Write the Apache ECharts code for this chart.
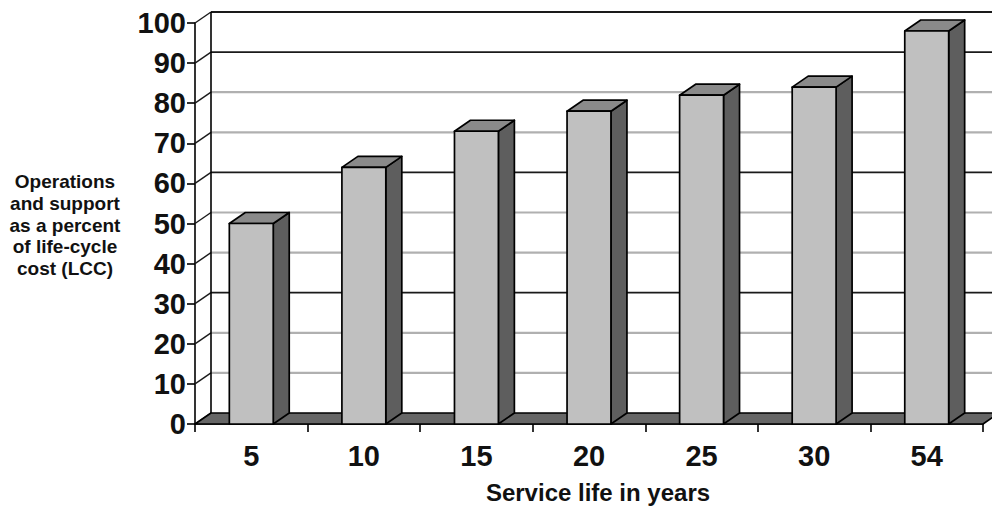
<!DOCTYPE html>
<html>
<head>
<meta charset="utf-8">
<script src="https://cdn.jsdelivr.net/npm/echarts@6/dist/echarts.min.js"></script>
<style>
  html, body { margin: 0; padding: 0; background: #fff; }
  #chart { width: 992px; height: 506px; }
</style>
</head>
<body>
<div id="chart"></div>
<script>
// Service life categories (years) and O&S share of life-cycle cost (%)
const categories = ['5', '10', '15', '20', '25', '30', '54'];
const oandsPercent = [50, 64, 73, 78, 82, 84, 98];
const yTickValues = [0, 10, 20, 30, 40, 50, 60, 70, 80, 90, 100];

// pseudo-3D depth offset of the chart box
const DX = 16;
const DY = -11;
const FONT = '"Liberation Sans", Arial, sans-serif';
const INK = '#111';

const chart = echarts.init(document.getElementById('chart'), null, { renderer: 'svg' });

// back wall, side wall, gridlines and floor of the 3-D box
function renderBox(params, api) {
  const cs = params.coordSys;
  const x0 = cs.x, x1 = cs.x + cs.width;
  const yFloor = api.coord([0, 0])[1];
  const yTop = api.coord([0, 100])[1];
  const children = [];
  yTickValues.forEach(function (v) {
    if (v === 0) return;
    const y = api.coord([0, v])[1];
    const dark = v % 30 === 0 || v === 100;
    children.push({
      type: 'line',
      shape: { x1: x0 + DX, y1: y + DY, x2: x1 + DX + 40, y2: y + DY },
      style: { stroke: dark ? '#1a1a1a' : '#b0b0b0', lineWidth: dark ? 1.8 : 2.2 }
    });
  });
  yTickValues.forEach(function (v) {
    const y = api.coord([0, v])[1];
    children.push({
      type: 'line',
      shape: { x1: x0, y1: y, x2: x0 + DX, y2: y + DY },
      style: { stroke: '#1a1a1a', lineWidth: 1.4 }
    });
  });
  children.push({
    type: 'line',
    shape: { x1: x0 + DX, y1: yTop + DY, x2: x0 + DX, y2: yFloor + DY },
    style: { stroke: '#000', lineWidth: 1.6 }
  });
  children.push({
    type: 'polygon',
    shape: { points: [[x0, yFloor], [x1, yFloor], [x1 + DX, yFloor + DY], [x0 + DX, yFloor + DY]] },
    style: { fill: '#666666', stroke: '#000', lineWidth: 1.6, lineJoin: 'round' }
  });
  return { type: 'group', children: children };
}

// one shaded column: front, top and right side faces
function renderColumn(params, api) {
  const base = api.coord([api.value(0), 0]);
  const top = api.coord([api.value(0), api.value(1)]);
  const bw = api.size([1, 0])[0] * 0.39;
  const xl = base[0] - bw / 2, xr = base[0] + bw / 2;
  const yb = base[1], yt = top[1];
  const edge = { stroke: '#000', lineWidth: 1.7, lineJoin: 'round' };
  return {
    type: 'group',
    children: [
      {
        type: 'polygon',
        shape: { points: [[xr, yt], [xr + DX, yt + DY], [xr + DX, yb + DY], [xr, yb]] },
        style: Object.assign({ fill: '#5e5e5e' }, edge)
      },
      {
        type: 'polygon',
        shape: { points: [[xl, yt], [xl + DX, yt + DY], [xr + DX, yt + DY], [xr, yt]] },
        style: Object.assign({ fill: '#8a8a8a' }, edge)
      },
      {
        type: 'rect',
        shape: { x: xl, y: yt, width: bw, height: yb - yt },
        style: Object.assign({ fill: '#c0c0c0' }, edge)
      }
    ]
  };
}

chart.setOption({
  animation: false,
  backgroundColor: '#fff',
  grid: { left: 195, right: 9, top: 23, bottom: 82, containLabel: false, outerBoundsMode: 'none' },
  xAxis: {
    type: 'category',
    data: categories,
    boundaryGap: true,
    axisLine: { show: true, lineStyle: { color: '#000', width: 1.6 } },
    axisTick: { show: true, length: 8, lineStyle: { color: '#000', width: 1.6 } },
    axisLabel: { color: INK, fontFamily: FONT, fontWeight: 'bold', fontSize: 29, margin: 17 },
    splitLine: { show: false }
  },
  yAxis: {
    type: 'value',
    min: 0,
    max: 100,
    interval: 10,
    axisLine: { show: true, lineStyle: { color: '#000', width: 1.6 } },
    axisTick: { show: true, length: 8, lineStyle: { color: '#000', width: 1.6 } },
    axisLabel: { color: INK, fontFamily: FONT, fontWeight: 'bold', fontSize: 29, margin: 9 },
    splitLine: { show: false }
  },
  graphic: [
    {
      type: 'text',
      x: 598, y: 492,
      style: {
        text: 'Service life in years',
        fill: INK, font: 'bold 24px ' + FONT,
        textAlign: 'center', textVerticalAlign: 'middle'
      }
    },
    {
      type: 'text',
      x: 65, y: 225,
      style: {
        text: 'Operations\nand support\nas a percent\nof life-cycle\ncost (LCC)',
        fill: INK, font: 'bold 19px ' + FONT, lineHeight: 21.6,
        textAlign: 'center', textVerticalAlign: 'middle'
      }
    }
  ],
  series: [
    {
      type: 'custom',
      z: 1,
      silent: true,
      renderItem: renderBox,
      data: [[0, 0]]
    },
    {
      type: 'custom',
      z: 2,
      renderItem: renderColumn,
      encode: { x: 0, y: 1 },
      data: oandsPercent.map(function (v, i) { return [i, v]; })
    }
  ]
});
</script>
</body>
</html>
